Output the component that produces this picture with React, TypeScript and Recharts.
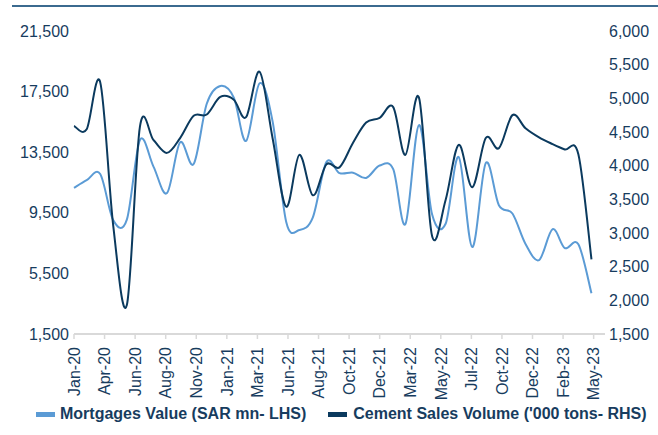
import { LineChart, Line, XAxis, YAxis } from 'recharts'

// month-end observations, Jan-20 .. Apr-23
const months = [
  '2020-01', '2020-02', '2020-03', '2020-04', '2020-05', '2020-06', '2020-07', '2020-08', '2020-09', '2020-10', '2020-11', '2020-12',
  '2021-01', '2021-02', '2021-03', '2021-04', '2021-05', '2021-06', '2021-07', '2021-08', '2021-09', '2021-10', '2021-11', '2021-12',
  '2022-01', '2022-02', '2022-03', '2022-04', '2022-05', '2022-06', '2022-07', '2022-08', '2022-09', '2022-10', '2022-11', '2022-12',
  '2023-01', '2023-02', '2023-03', '2023-04',
]

const mortgages = [
  11140, 11650, 12060, 9000, 9050, 14300, 12550, 10800, 14150, 12720, 16700, 17870,
  17100, 14240, 18050, 15500, 8890, 8360, 9200, 12850, 12120, 12150, 11800, 12620,
  12380, 8760, 15290, 9400, 8780, 13180, 7240, 12790, 10000, 9450, 7440, 6380,
  8420, 7170, 7430, 4190,
]

const cement = [
  4590, 4540, 5240, 3100, 1930, 4580, 4380, 4190, 4410, 4740, 4760, 5020,
  4980, 4720, 5395, 4400, 3390, 4160, 3560, 4020, 3975, 4340, 4640, 4710,
  4870, 4160, 5010, 2955, 3490, 4310, 3680, 4410, 4260, 4750, 4555, 4420,
  4320, 4240, 4170, 2610,
]

const tickLabels = [
  'Jan-20', 'Apr-20', 'Jun-20', 'Aug-20', 'Nov-20', 'Jan-21', 'Mar-21', 'Jun-21', 'Aug-21',
  'Oct-21', 'Dec-21', 'Mar-22', 'May-22', 'Jul-22', 'Oct-22', 'Dec-22', 'Feb-23', 'May-23',
]
const tickStep = 70 // days between axis labels
const leftTicks = [1500, 5500, 9500, 13500, 17500, 21500]
const rightTicks = [1500, 2000, 2500, 3000, 3500, 4000, 4500, 5000, 5500, 6000]

const LIGHT = '#5b9bd5'
const DARK = '#0b3a5e'
const TEXT = '#173c5e'
const FONT = '"Liberation Sans", Arial, sans-serif'

// days from the first month end
const dayOf = (ym: string) => {
  const [y, m] = ym.split('-').map(Number)
  return (Date.UTC(y, m, 0) - Date.UTC(2020, 1, 0)) / 864e5
}
const axisEnd = dayOf('2023-05')

const rows = months.map((m, i) => ({ d: dayOf(m), mortgages: mortgages[i], cement: cement[i] }))

// excel-like smoothing (catmull-rom through every point)
function excelCurve(context: any) {
  let pts: number[][] = []
  return {
    areaStart() {},
    areaEnd() {},
    lineStart() {
      pts = []
    },
    point(x: number, y: number) {
      pts.push([+x, +y])
    },
    lineEnd() {
      const n = pts.length
      if (!n) return
      context.moveTo(pts[0][0], pts[0][1])
      for (let i = 0; i < n - 1; i++) {
        const p0 = pts[Math.max(i - 1, 0)]
        const p1 = pts[i]
        const p2 = pts[i + 1]
        const p3 = pts[Math.min(i + 2, n - 1)]
        context.bezierCurveTo(
          p1[0] + (p2[0] - p0[0]) / 6,
          p1[1] + (p2[1] - p0[1]) / 6,
          p2[0] - (p3[0] - p1[0]) / 6,
          p2[1] - (p3[1] - p1[1]) / 6,
          p2[0],
          p2[1]
        )
      }
    },
  }
}

function DateTick({ x, y, payload }: any) {
  const label = tickLabels[Math.round(payload.value / tickStep)]
  return (
    <text
      x={x}
      y={y}
      transform={`rotate(-90, ${x}, ${y})`}
      textAnchor="end"
      dy="0.36em"
      fill={TEXT}
      fontSize={16}
    >
      {label}
    </text>
  )
}

const fmt = (v: number) => v.toLocaleString('en-US')

export default function App() {
  return (
    <div style={{ position: 'absolute', left: 0, top: 0, width: 658, height: 435, fontFamily: FONT, background: '#fff' }}>
      <div style={{ position: 'absolute', left: 12, top: 5, width: 646, height: 2, background: '#3b6a8f' }} />
      <LineChart width={658} height={435} data={rows} margin={{ top: 31, right: 0, bottom: 0, left: 0 }}>
        <XAxis
          dataKey="d"
          type="number"
          domain={[0, axisEnd]}
          ticks={tickLabels.map((_, k) => k * tickStep)}
          interval={0}
          height={101}
          tick={<DateTick />}
          tickSize={5}
          tickMargin={8}
          axisLine={{ stroke: '#d9d9d9', strokeWidth: 2 }}
          tickLine={{ stroke: '#d9d9d9', strokeWidth: 1.5 }}
        />
        <YAxis
          yAxisId="l"
          width={74}
          domain={[1500, 21500]}
          ticks={leftTicks}
          interval={0}
          tickFormatter={fmt}
          axisLine={false}
          tickLine={false}
          tickSize={0}
          tickMargin={5}
          tick={{ fill: TEXT, fontSize: 16 }}
        />
        <YAxis
          yAxisId="r"
          orientation="right"
          width={53}
          domain={[1500, 6000]}
          ticks={rightTicks}
          interval={0}
          tickFormatter={fmt}
          axisLine={false}
          tickLine={false}
          tickSize={0}
          tickMargin={4}
          tick={{ fill: TEXT, fontSize: 16, textAnchor: 'start' }}
        />
        <Line
          yAxisId="l"
          dataKey="mortgages"
          type={excelCurve as any}
          stroke={LIGHT}
          strokeWidth={2}
          dot={false}
          isAnimationActive={false}
        />
        <Line
          yAxisId="r"
          dataKey="cement"
          type={excelCurve as any}
          stroke={DARK}
          strokeWidth={2}
          dot={false}
          isAnimationActive={false}
        />
      </LineChart>
      <div
        style={{
          position: 'absolute',
          left: 36,
          top: 404,
          height: 20,
          display: 'flex',
          alignItems: 'center',
          fontSize: 16,
          fontWeight: 'bold',
          color: TEXT,
          whiteSpace: 'nowrap',
        }}
      >
        <span style={{ display: 'inline-block', width: 19, height: 5, background: LIGHT, marginRight: 5 }} />
        <span>Mortgages Value (SAR mn- LHS)</span>
        <span style={{ display: 'inline-block', width: 19, height: 5, background: DARK, marginLeft: 22, marginRight: 6 }} />
        <span>Cement Sales Volume ('000 tons- RHS)</span>
      </div>
    </div>
  )
}
